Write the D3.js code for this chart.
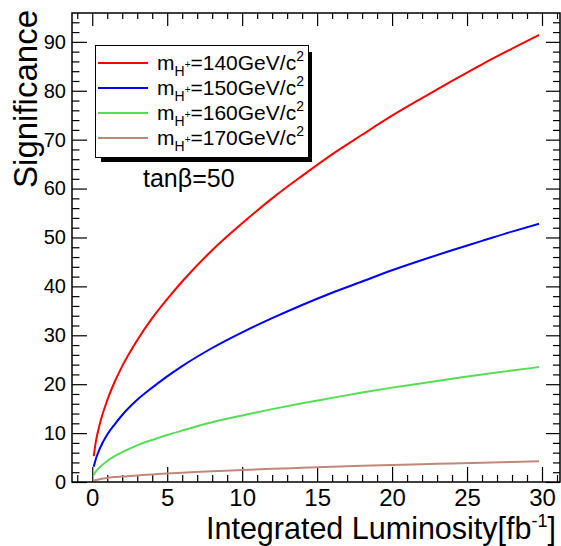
<!DOCTYPE html>
<html>
<head>
<meta charset="utf-8">
<script src="https://cdn.jsdelivr.net/npm/d3@7"></script>
<style>
  body { margin: 0; background: #fff; }
  svg { display: block; font-family: "Liberation Sans", Arial, sans-serif; }
</style>
</head>
<body>
<svg id="chart" width="561" height="546"></svg>
<script>
// integrated luminosity (fb^-1) where the curves were read
var lumi = [0.1, 0.25, 0.5, 1, 1.5, 2, 3, 4, 5, 6, 8, 10, 12, 14, 16, 18, 20, 22, 24, 26, 28, 29.8]

// significance, one list per charged higgs mass
var sig140 = [5.3, 8.4, 11.8, 16.7, 20.5, 23.7, 29.0, 33.5, 37.4, 41.0, 47.4, 52.9, 58.0, 62.6, 67.0, 71.0, 74.9, 78.5, 82.0, 85.4, 88.6, 91.4]
var sig150 = [3.1, 4.8, 6.8, 9.7, 11.8, 13.7, 16.8, 19.3, 21.6, 23.7, 27.4, 30.6, 33.5, 36.2, 38.7, 41.0, 43.3, 45.4, 47.4, 49.3, 51.2, 52.8]
var sig160 = [1.4, 2.2, 3.0, 4.3, 5.3, 6.1, 7.5, 8.6, 9.6, 10.5, 12.2, 13.6, 14.9, 16.1, 17.2, 18.3, 19.3, 20.2, 21.1, 22.0, 22.8, 23.5]
var sig170 = [0.25, 0.4, 0.55, 0.8, 1.0, 1.1, 1.35, 1.55, 1.75, 1.9, 2.2, 2.45, 2.7, 2.9, 3.1, 3.3, 3.5, 3.65, 3.8, 3.95, 4.1, 4.25]

var masses = ["140", "150", "160", "170"]
var colors = ["#ff0000", "#0000ff", "#55dd55", "#c08878"]
var xTicks = [0, 5, 10, 15, 20, 25, 30]
var yTicks = [0, 10, 20, 30, 40, 50, 60, 70, 80, 90]

var svg = d3.select("#chart")
var L = 72, R = 560, T = 13, B = 482

var x = d3.scaleLinear().domain([-1.35, 31.2]).range([L, R])
var y = d3.scaleLinear().domain([0, 95.9]).range([B, T])

var xMinor = d3.range(-1, 32, 1).filter(function(v) { return v % 5 != 0 })
var yMinor = d3.range(2, 96, 2).filter(function(v) { return v % 10 != 0 })

function axis(gen, tr, ticks, size, labels) {
  var g = svg.append("g").attr("transform", tr)
    .call(gen.tickValues(ticks).tickSizeInner(-size).tickSizeOuter(0)
      .tickFormat(labels ? d3.format("d") : ""))
  g.select(".domain").remove()
  g.selectAll(".tick line").attr("stroke", "#000").attr("stroke-width", 1.2)
  return g
}

// bottom
var gx = axis(d3.axisBottom(x), "translate(0," + B + ")", xTicks, 15, true)
axis(d3.axisBottom(x), "translate(0," + B + ")", xMinor, 7, false)
gx.selectAll("text").attr("font-size", 24).attr("fill", "#000").attr("y", 7).attr("dy", "0.71em")
  .attr("font-family", "Liberation Sans, Arial, sans-serif")
// top
axis(d3.axisTop(x), "translate(0," + T + ")", xTicks, 13, false)
axis(d3.axisTop(x), "translate(0," + T + ")", xMinor, 6, false)
// left
var gy = axis(d3.axisLeft(y), "translate(" + L + ",0)", yTicks, 15, true)
axis(d3.axisLeft(y), "translate(" + L + ",0)", yMinor, 7.5, false)
gy.selectAll("text").attr("font-size", 20).attr("fill", "#000").attr("x", -6)
  .attr("font-family", "Liberation Sans, Arial, sans-serif")
// right
axis(d3.axisRight(y), "translate(" + R + ",0)", yTicks, 14, false)
axis(d3.axisRight(y), "translate(" + R + ",0)", yMinor, 7, false)

// curves
var series = [sig140, sig150, sig160, sig170]
var line = d3.line()
  .x(function(d, i) { return x(lumi[i]) })
  .y(function(d) { return y(d) })
  .curve(d3.curveMonotoneX)

svg.selectAll(".curve").data(series).enter().append("path")
  .attr("class", "curve")
  .attr("d", line)
  .attr("fill", "none")
  .attr("stroke", function(d, i) { return colors[i] })
  .attr("stroke-width", 2)

// frame
svg.append("rect").attr("x", L).attr("y", T).attr("width", R - L).attr("height", B - T)
  .attr("fill", "none").attr("stroke", "#000").attr("stroke-width", 1.5)

// legend with shadow
svg.append("rect").attr("x", 101).attr("y", 52).attr("width", 211).attr("height", 110).attr("fill", "#000")
svg.append("rect").attr("x", 95.5).attr("y", 45.5).attr("width", 213).attr("height", 112)
  .attr("fill", "#fff").attr("stroke", "#000").attr("stroke-width", 1)

var leg = svg.selectAll(".leg").data(masses).enter().append("g")
  .attr("class", "leg")
  .attr("transform", function(d, i) { return "translate(0," + (70 + i * 25) + ")" })
leg.append("line").attr("x1", 98).attr("x2", 148).attr("y1", -7).attr("y2", -7)
  .attr("stroke", function(d, i) { return colors[i] }).attr("stroke-width", 2)
var lt = leg.append("text").attr("x", 157).attr("y", 0).attr("font-size", 21)
lt.append("tspan").text("m")
lt.append("tspan").attr("font-size", 14).attr("dy", 6).text("H")
lt.append("tspan").attr("font-size", 10).attr("dy", -8).text("+")
lt.append("tspan").attr("dy", 2).text(function(d) { return "=" + d + "GeV/c" })
lt.append("tspan").attr("font-size", 14).attr("dy", -9).text("2")

svg.append("text").attr("x", 143).attr("y", 187).attr("font-size", 25).text("tanβ=50")

// axis titles
var xt = svg.append("text").attr("x", 556).attr("y", 539).attr("text-anchor", "end").attr("font-size", 30.5)
xt.append("tspan").text("Integrated Luminosity[fb")
xt.append("tspan").attr("font-size", 18).attr("dy", -12).text("-1")
xt.append("tspan").attr("dy", 12).text("]")

svg.append("text").attr("transform", "translate(37,10) rotate(-90)")
  .attr("text-anchor", "end").attr("font-size", 33).text("Significance")
</script>
</body>
</html>
